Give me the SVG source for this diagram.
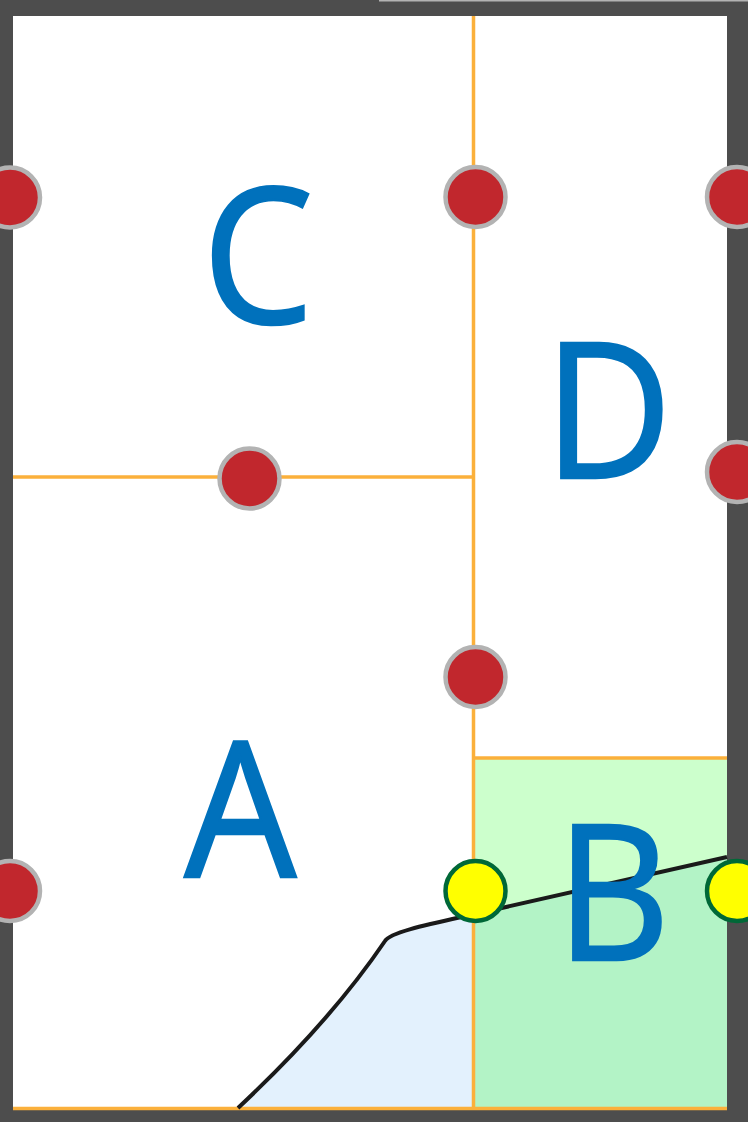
<svg xmlns="http://www.w3.org/2000/svg" width="748" height="1122" viewBox="0 0 748 1122">
<style>
.lbl{font-family:"Open Sans","Noto Sans","Liberation Sans",sans-serif;font-size:188px;fill:#0071bc;stroke:#0071bc;stroke-width:2.5;text-anchor:middle}
.div{stroke:#fbb03b;stroke-width:3.5;fill:none}
.red{fill:#c1272d;stroke:#b3b3b3;stroke-width:4.5}
.yel{fill:#ffff00;stroke:#006837;stroke-width:4.5}
</style>
<rect x="0" y="0" width="748" height="1122" fill="#4d4d4d"/>
<rect x="379" y="0" width="369" height="1.5" fill="#b3b3b3"/>
<rect x="13" y="16" width="714" height="1094" fill="#ffffff"/>
<g id="region-B-fill">
<rect x="473" y="758" width="254" height="351" fill="#ccffcc"/>
<path d="M473,914 L727,857 L727,1108 L473,1108 Z" fill="#b3f3c6"/>
</g>
<path id="region-lower-fill" d="M238,1108 Q330,1022 385,941 C390,932 430,924 475,914 L473,1108 Z" fill="#e3f1fd"/>
<g id="connectors">
<line class="div" x1="473.5" y1="16" x2="473.5" y2="1108"/>
<line class="div" x1="13" y1="477" x2="473.5" y2="477"/>
<line class="div" x1="473.5" y1="758" x2="727" y2="758" stroke-width="3"/>
<line class="div" x1="13" y1="1108.5" x2="727" y2="1108.5" stroke-width="3"/>
<path d="M238,1108 Q330,1022 385,941 C390,932 430,924 475,914 L727,857" fill="none" stroke="#1a1a1a" stroke-width="4"/>
</g>
<g id="node-C"><text class="lbl" transform="translate(258,323) scale(0.94,1)">C</text></g>
<g id="node-D"><text class="lbl" transform="translate(608,478) scale(0.94,1)">D</text></g>
<g id="node-A"><text class="lbl" transform="translate(240.5,877) scale(0.94,1)">A</text></g>
<g id="node-B"><text class="lbl" transform="translate(613,960) scale(0.94,1)">B</text></g>
<g id="points">
<circle id="p1" class="red" cx="10" cy="197.5" r="30"/>
<circle id="p2" class="red" cx="475.5" cy="197" r="30"/>
<circle id="p3" class="red" cx="737" cy="197" r="30"/>
<circle id="p4" class="red" cx="249.5" cy="478.5" r="30"/>
<circle id="p5" class="red" cx="737" cy="472" r="30"/>
<circle id="p6" class="red" cx="475.5" cy="677" r="30"/>
<circle id="p7" class="red" cx="10" cy="891" r="30"/>
<circle id="p8" class="yel" cx="475.5" cy="891" r="30"/>
<circle id="p9" class="yel" cx="737" cy="891" r="30"/>
</g>
</svg>
